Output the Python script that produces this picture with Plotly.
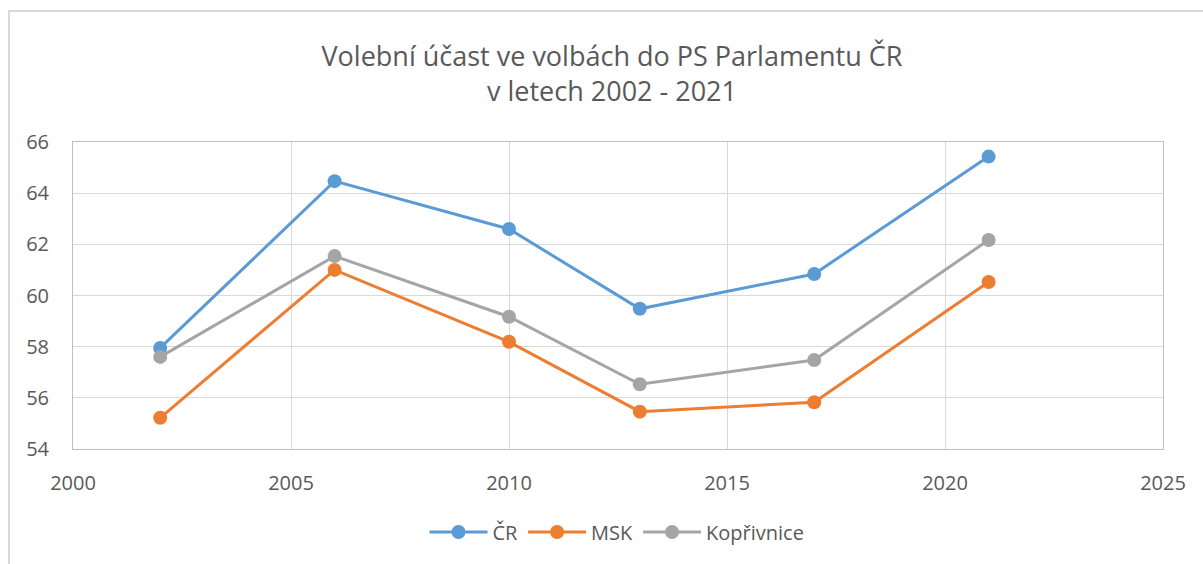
import plotly.graph_objects as go

years = [2002, 2006, 2010, 2013, 2017, 2021]
cr = [57.95, 64.47, 62.60, 59.48, 60.84, 65.43]
msk = [55.22, 61.00, 58.19, 55.46, 55.83, 60.53]
koprivnice = [57.60, 61.54, 59.17, 56.53, 57.48, 62.17]

series = [("ČR", cr, "#5B9BD5"), ("MSK", msk, "#ED7D31"), ("Kopřivnice", koprivnice, "#A5A5A5")]

fig = go.Figure()
for name, vals, col in series:
    fig.add_trace(go.Scatter(x=years, y=vals, name=name, mode="lines+markers",
                             line=dict(color=col, width=3),
                             marker=dict(color=col, size=14)))

W, H = 1203, 564
L, R, T, B = 73, 40, 142, 115
pw, ph = W - L - R, H - T - B

fig.update_layout(
    width=W, height=H,
    margin=dict(l=L, r=R, t=T, b=B),
    paper_bgcolor="white", plot_bgcolor="white",
    font=dict(family="Open Sans", color="#595959", size=20),
    title=dict(text="Volební účast ve volbách do PS Parlamentu ČR<br>v letech 2002 - 2021",
               x=(612 - L) / pw, xref="paper", xanchor="center",
               y=1 - 66 / H, yanchor="middle",
               font=dict(size=27, color="#595959")),
    xaxis=dict(range=[2000, 2025], dtick=5, tick0=2000, showgrid=True, gridcolor="#D9D9D9",
               gridwidth=1, zeroline=False, showline=True, linecolor="#BFBFBF", mirror=True,
               ticks="", ticklabelstandoff=16, tickfont=dict(size=20)),
    yaxis=dict(range=[54, 66], dtick=2, showgrid=True, gridcolor="#D9D9D9", gridwidth=1,
               zeroline=False, showline=True, linecolor="#BFBFBF", mirror=True,
               ticks="", ticklabelstandoff=19, tickfont=dict(size=20)),
    legend=dict(orientation="h", x=(617 - L) / pw, xanchor="center",
                y=-(532 - 449) / ph, yanchor="middle", font=dict(size=20),
                itemwidth=58),
    showlegend=True,
)

fig.add_shape(type="rect", xref="paper", yref="paper",
              x0=(9 - L) / pw, x1=(1210 - L) / pw,
              y0=-(575 - 449) / ph, y1=1 + (T - 11) / ph,
              line=dict(color="#D9D9D9", width=2), layer="below")

fig.write_html("out.html", config={"displayModeBar": False},
               post_script="document.body.style.margin='0';document.body.style.overflow='hidden';")
